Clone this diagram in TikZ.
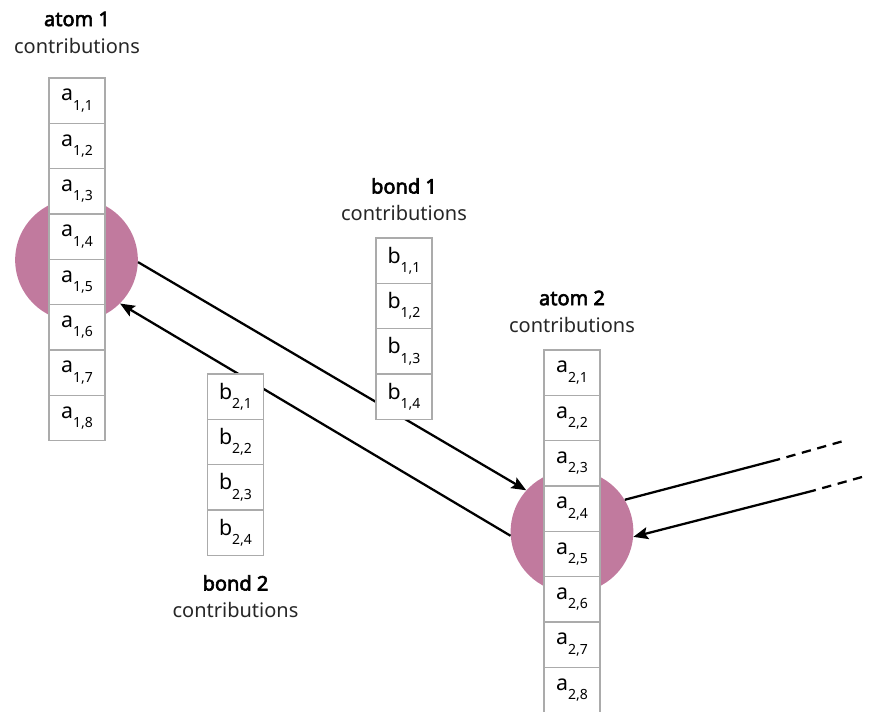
\documentclass[tikz,border=0pt]{standalone}
\usepackage{fontspec}
\setmainfont{Noto Sans}[AutoFakeBold=3]
\usetikzlibrary{arrows.meta}

\definecolor{atomfill}{HTML}{C17A9E}
\definecolor{cellline}{HTML}{ABABAB}

% subscripted entry, e.g. \entry{a}{1,1}
\newcommand{\entry}[2]{#1\raisebox{-7pt}{\fontsize{10.5}{10.5}\selectfont #2}}

\tikzstyle{atom} = [circle, fill=atomfill, minimum size=92pt, inner sep=0pt]
\tikzstyle{cell} = [rectangle, draw=cellline, line width=0.9pt, fill=white, minimum width=42pt, minimum height=34pt, inner sep=0pt, font=\fontsize{16}{16}\selectfont]
\tikzstyle{title} = [font=\fontsize{15}{18}\selectfont\bfseries]
\tikzstyle{caption} = [font=\fontsize{15}{18}\selectfont, text=black!85]
\tikzstyle{arrow} = [line width=1.7pt, -{Stealth[length=11pt, width=9pt, inset=2pt]}]
\tikzstyle{link} = [line width=1.7pt]
\tikzstyle{loose} = [line width=1.7pt, dash pattern=on 7pt off 5pt]

\begin{document}
\begin{tikzpicture}[x=0.75pt, y=-0.75pt, node distance=34pt]
    \useasboundingbox (0,0) rectangle (869,713);
    \clip (0,0) rectangle (869,711.5);

    % Atoms
    \node (atom1) [atom] at (76.5,260) {};
    \node (atom2) [atom] at (572,531.5) {};

    % Free ends of the outer bonds
    \coordinate (out1) at (780,459);
    \coordinate (outend) at (847,440);
    \coordinate (in1) at (812,491);
    \coordinate (inend) at (862,477);

    % Arrows
    \draw [arrow] (atom1.-2) -- (atom2.138);
    \draw [arrow] (atom2.184) -- (atom1.-45);
    \draw [link] (atom2.31) -- (out1);
    \draw [loose, dash phase=7pt] (out1) -- (outend);
    \draw [loose] (inend) -- (in1);
    \draw [arrow] (in1) -- (atom2.-5.5);

    % Atom 1 contributions
    \node (a11) [cell] at (77,100.7) {\entry{a}{1,1}};
    \node (a12) [cell, below of=a11] {\entry{a}{1,2}};
    \node (a13) [cell, below of=a12] {\entry{a}{1,3}};
    \node (a14) [cell, below of=a13] {\entry{a}{1,4}};
    \node (a15) [cell, below of=a14] {\entry{a}{1,5}};
    \node (a16) [cell, below of=a15] {\entry{a}{1,6}};
    \node (a17) [cell, below of=a16] {\entry{a}{1,7}};
    \node (a18) [cell, below of=a17] {\entry{a}{1,8}};
    \node (t1) [title] at (77,19) {atom 1};
    \node (c1) [caption] at (77,46) {contributions};

    % Bond 1 contributions
    \node (b11) [cell] at (404,260.7) {\entry{b}{1,1}};
    \node (b12) [cell, below of=b11] {\entry{b}{1,2}};
    \node (b13) [cell, below of=b12] {\entry{b}{1,3}};
    \node (b14) [cell, below of=b13] {\entry{b}{1,4}};
    \node (t2) [title] at (404,186) {bond 1};
    \node (c2) [caption] at (404,213) {contributions};

    % Bond 2 contributions
    \node (b21) [cell] at (235.5,396.7) {\entry{b}{2,1}};
    \node (b22) [cell, below of=b21] {\entry{b}{2,2}};
    \node (b23) [cell, below of=b22] {\entry{b}{2,3}};
    \node (b24) [cell, below of=b23] {\entry{b}{2,4}};
    \node (t3) [title] at (235.5,583) {bond 2};
    \node (c3) [caption] at (235.5,610) {contributions};

    % Atom 2 contributions
    \node (a21) [cell] at (572,372.7) {\entry{a}{2,1}};
    \node (a22) [cell, below of=a21] {\entry{a}{2,2}};
    \node (a23) [cell, below of=a22] {\entry{a}{2,3}};
    \node (a24) [cell, below of=a23] {\entry{a}{2,4}};
    \node (a25) [cell, below of=a24] {\entry{a}{2,5}};
    \node (a26) [cell, below of=a25] {\entry{a}{2,6}};
    \node (a27) [cell, below of=a26] {\entry{a}{2,7}};
    \node (a28) [cell, below of=a27] {\entry{a}{2,8}};
    \node (t4) [title] at (572,298) {atom 2};
    \node (c4) [caption] at (572,325) {contributions};
\end{tikzpicture}
\end{document}
